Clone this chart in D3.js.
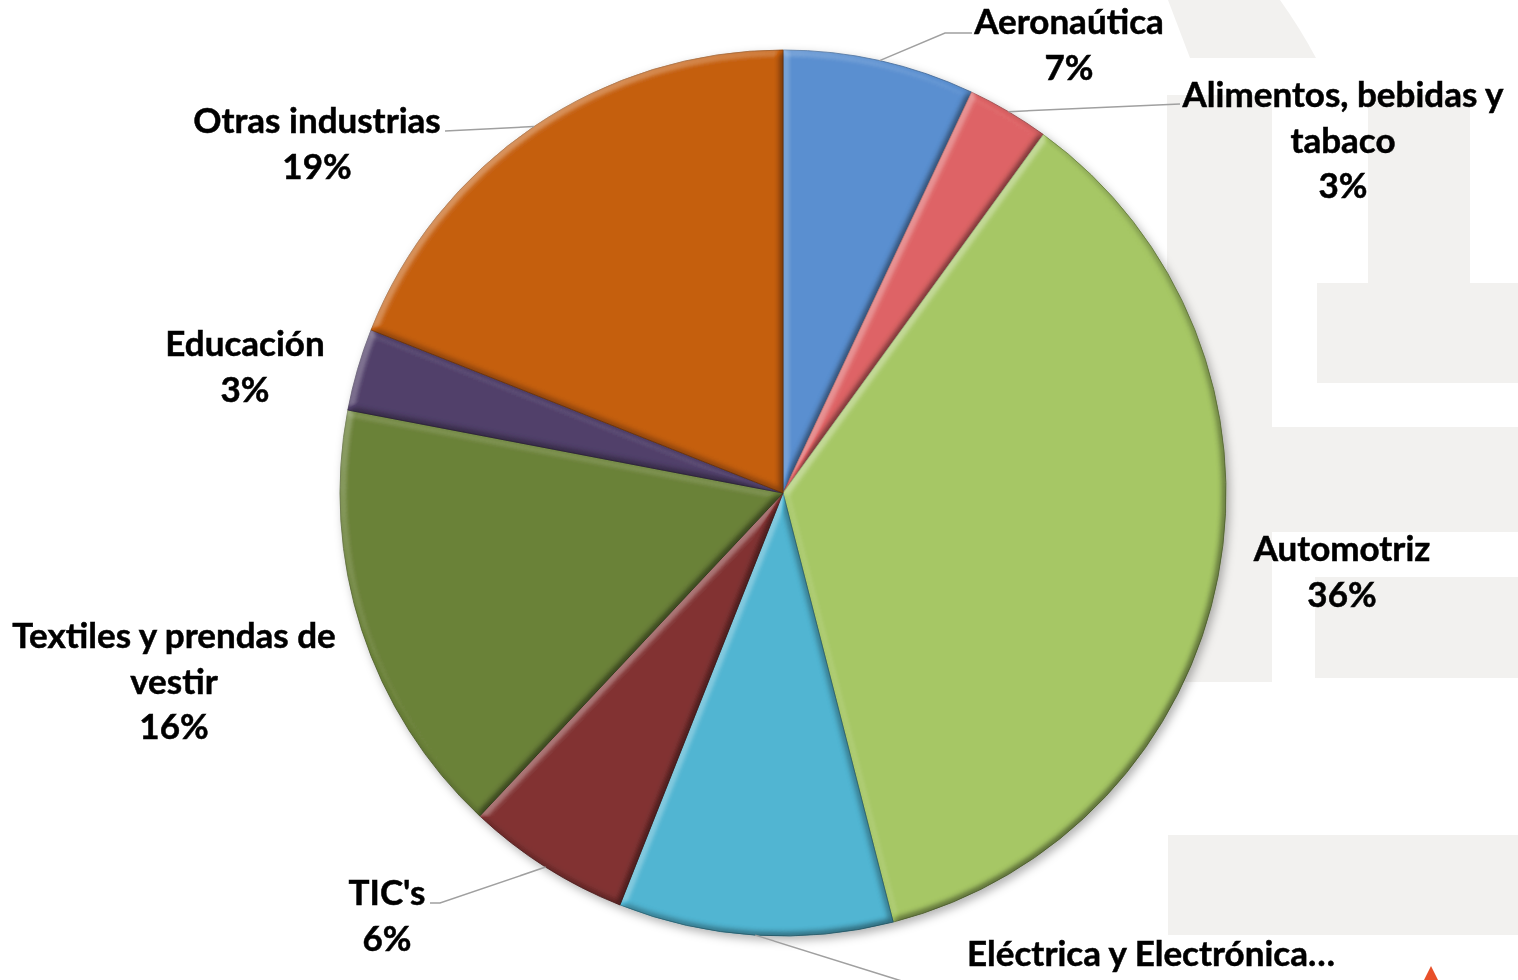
<!DOCTYPE html>
<html lang="es">
<head>
<meta charset="utf-8">
<script src="https://cdn.jsdelivr.net/npm/d3@7"></script>
<style>
  html, body { margin: 0; padding: 0; background: #ffffff; }
  svg { display: block; }
  .lbl { font-family: Lato, "Open Sans", sans-serif; font-weight: 700; font-size: 35px; fill: #000;
         stroke: #000; stroke-width: 0.5px; }
</style>
</head>
<body>
<svg id="chart" width="1518" height="980"></svg>
<script>
// Sector shares (%) clockwise from 12 o'clock
const sectors = ["Aeronaútica", "Alimentos, bebidas y tabaco", "Automotriz", "Eléctrica y Electrónica", "TIC's", "Textiles y prendas de vestir", "Educación", "Otras industrias"];
const shares  = [7, 3, 36, 10, 6, 16, 3, 19];
const colors  = ["#5a8fd0", "#de6466", "#a6c765", "#51b5d2", "#823333", "#6b8239", "#51406a", "#c55f10"];
// Label lines as printed on the chart (the share is appended below)
const labelLines = [
  ["Aeronaútica"],
  ["Alimentos, bebidas y", "tabaco"],
  ["Automotriz"],
  ["Eléctrica y Electrónica…"],
  ["TIC's"],
  ["Textiles y prendas de", "vestir"],
  ["Educación"],
  ["Otras industrias"]
];

const W = 1518, H = 980;
const cx = 783, cy = 493, R = 443;
const lineH = 45.5;

const svg = d3.select("#chart");
const defs = svg.append("defs");

// Bevel: light from the upper left, computed from the blurred slice outline
const bevel = defs.append("filter").attr("id", "bevel")
  .attr("x", "-5%").attr("y", "-5%").attr("width", "110%").attr("height", "110%")
  .attr("color-interpolation-filters", "sRGB");
bevel.append("feGaussianBlur").attr("in", "SourceAlpha").attr("stdDeviation", 3.5).attr("result", "blur");
const dl = bevel.append("feDiffuseLighting").attr("in", "blur").attr("surfaceScale", 5)
  .attr("diffuseConstant", 1).attr("lighting-color", "#ffffff").attr("result", "light");
dl.append("feDistantLight").attr("azimuth", 225).attr("elevation", 45);
bevel.append("feColorMatrix").attr("in", "light").attr("type", "matrix")
  .attr("values", "0 0 0 0 1  0 0 0 0 1  0 0 0 0 1  1.1 0 0 0 -0.78").attr("result", "hi");
bevel.append("feColorMatrix").attr("in", "light").attr("type", "matrix")
  .attr("values", "0 0 0 0 0  0 0 0 0 0  0 0 0 0 0  -0.55 0 0 0 0.389").attr("result", "lo");
bevel.append("feComposite").attr("in", "hi").attr("in2", "SourceAlpha").attr("operator", "in").attr("result", "hiIn");
bevel.append("feComposite").attr("in", "lo").attr("in2", "SourceAlpha").attr("operator", "in").attr("result", "loIn");
const bm = bevel.append("feMerge");
bm.append("feMergeNode").attr("in", "SourceGraphic");
bm.append("feMergeNode").attr("in", "hiIn");
bm.append("feMergeNode").attr("in", "loIn");

// Soft shadow below the whole pie
const shadow = defs.append("filter").attr("id", "shadow")
  .attr("x", "-10%").attr("y", "-10%").attr("width", "120%").attr("height", "120%");
shadow.append("feDropShadow").attr("dx", 3).attr("dy", 4).attr("stdDeviation", 5)
  .attr("flood-color", "#000").attr("flood-opacity", 0.3);

// Light-grey watermark blocks behind the chart
const wm = svg.append("g").attr("fill", "#f2f1ef");
wm.append("path").attr("d", "M1168,0 L1280,0 Q1300,28 1316,58 L1190,58 Z");
[
  [1167, 95, 105, 587],
  [1368, 95, 102, 188],
  [1317, 283, 201, 100],
  [1167, 427, 351, 105],
  [1315, 577, 203, 101],
  [1168, 835, 350, 100]
].forEach(([x, y, w, h]) => wm.append("rect").attr("x", x).attr("y", y).attr("width", w).attr("height", h));
// small logo corner
svg.append("path").attr("d", "M1424,980 L1431,966 L1438,980 Z").attr("fill", "#e8502a");

// Pie
const pie = d3.pie().sort(null).value(d => d)(shares);
const arc = d3.arc().innerRadius(0).outerRadius(R);

const pg = svg.append("g").attr("filter", "url(#shadow)")
  .append("g").attr("transform", `translate(${cx},${cy})`);
pg.selectAll("path.slice").data(pie).join("path")
  .attr("class", "slice")
  .attr("d", arc)
  .attr("fill", (d, i) => colors[i])
  .attr("stroke", (d, i) => d3.color(colors[i]).darker(1.0))
  .attr("stroke-width", 0.8)
  .attr("filter", "url(#bevel)");

// Label anchors: center x, first baseline y, leader elbow points
const labelPos = [
  { x: 1069, y: 34,  leader: [[945, 33], [972, 33]] },
  { x: 1343, y: 107, leader: [[1180, 104]] },
  { x: 1342, y: 561, leader: null },
  { x: 1151, y: 966, leader: [[905, 982]] },
  { x: 387,  y: 905, leader: [[440, 903], [430, 903]] },
  { x: 174,  y: 648, leader: null },
  { x: 245,  y: 356, leader: null },
  { x: 317,  y: 133, leader: [[445, 131]] }
];

// Leader lines start on the rim at each slice's middle angle
const lg = svg.append("g").attr("fill", "none").attr("stroke", "#a0a0a0").attr("stroke-width", 1.5);
pie.forEach((d, i) => {
  const lp = labelPos[i];
  if (!lp.leader) return;
  const a = (d.startAngle + d.endAngle) / 2;
  const start = [cx + R * Math.sin(a), cy - R * Math.cos(a)];
  lg.append("path").attr("d", d3.line()([start, ...lp.leader]));
});

// Labels: name lines then the percentage
const tg = svg.append("g");
pie.forEach((d, i) => {
  const lp = labelPos[i];
  const lines = labelLines[i].slice();
  if (i !== 3) lines.push(d3.format(".0f")(shares[i]) + "%");
  const t = tg.append("text").attr("class", "lbl").attr("text-anchor", "middle");
  lines.forEach((s, k) => {
    t.append("tspan").attr("x", lp.x).attr("y", lp.y + k * lineH).text(s);
  });
});
</script>
</body>
</html>
